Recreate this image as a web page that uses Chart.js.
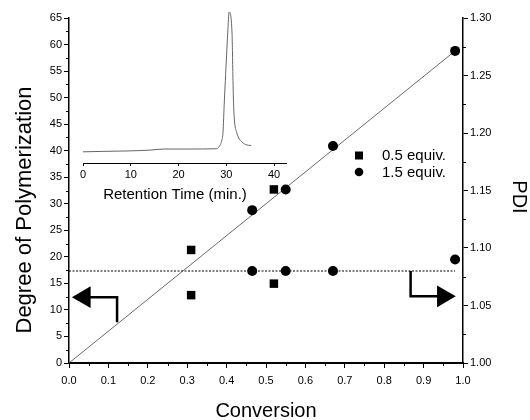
<!DOCTYPE html>
<html>
<head>
<meta charset="utf-8">
<script src="https://cdn.jsdelivr.net/npm/chart.js@4.4.0/dist/chart.umd.min.js"></script>
<style>
    html, body { margin: 0; padding: 0; background: #fff; }
    #wrap { position: relative; width: 530px; height: 420px; }
    #main, #inset { position: absolute; left: 0; top: 0; }
    #inset { pointer-events: none; }
</style>
</head>
<body>
<div id="wrap">
    <canvas id="main" width="530" height="420"></canvas>
    <canvas id="inset" width="300" height="210"></canvas>
</div>
<script>
// --- data ---
const conv05 = [0.31, 0.52];
const dp05 = [21.3, 32.7];
const pdi05 = [1.059, 1.069];

const conv15 = [0.465, 0.55, 0.67, 0.98];
const dp15 = [28.8, 32.7, 40.9, 58.8];
const pdi15 = [1.08, 1.08, 1.08, 1.09];

// theoretical DP line and PDI guide
const dpFitConv = [0, 0.98];
const dpFitValue = [0, 58.8];
const pdiGuideConv = [0, 0.98];
const pdiGuideValue = [1.08, 1.08];

// arrows pointing to the axes (elbow + head)
const arrowLeftConv = [0.122, 0.122, 0.039];
const arrowLeftDp = [7.7, 12.4, 12.4];
const arrowRightConv = [0.867, 0.867, 0.950];
const arrowRightPdi = [1.08, 1.058, 1.058];

// inset GPC trace
const gpcTime = [0, 4, 9, 14, 17, 22, 28.0, 28.5, 29.1, 29.3, 29.6, 29.8, 30.3, 30.6,
                 31.2, 31.4, 31.5, 31.65, 32.2, 33.3, 34.2, 35.2];
const gpcSignal = [0, 0.003, 0.006, 0.012, 0.02, 0.02, 0.022, 0.038, 0.086, 0.134, 0.37, 0.51, 0.85, 1.0,
                   0.85, 0.51, 0.37, 0.25, 0.136, 0.07, 0.05, 0.045];

const legendLabels = ['0.5 equiv.', '1.5 equiv.'];

const FONT = "'Liberation Sans', Arial, Helvetica, sans-serif";
const INK = '#000';

const pts = (xs, ys) => xs.map((x, i) => ({ x, y: ys[i] }));

// minor ticks, axis titles and legend drawn on top of chart
const decorations = {
    id: 'decorations',
    afterDraw(chart) {
        const { ctx, chartArea: ca, scales } = chart;
        ctx.save();
        ctx.strokeStyle = INK;
        ctx.lineWidth = 1;
        ctx.beginPath();
        for (let v = 2.5; v < 65; v += 5) {
            const py = Math.round(scales.y.getPixelForValue(v)) + 0.5;
            ctx.moveTo(ca.left - 3, py); ctx.lineTo(ca.left, py);
        }
        for (let v = 1.025; v < 1.3; v += 0.05) {
            const py = Math.round(scales.y2.getPixelForValue(v)) + 0.5;
            ctx.moveTo(ca.right, py); ctx.lineTo(ca.right + 3, py);
        }
        for (let v = 0.05; v < 1; v += 0.1) {
            const px = Math.round(scales.x.getPixelForValue(v)) + 0.5;
            ctx.moveTo(px, ca.bottom); ctx.lineTo(px, ca.bottom + 3);
        }
        ctx.stroke();

        // axis titles
        ctx.fillStyle = INK;
        ctx.textAlign = 'center';
        ctx.textBaseline = 'alphabetic';
        ctx.font = `22px ${FONT}`;
        ctx.save();
        ctx.translate(31, 210);
        ctx.rotate(-Math.PI / 2);
        ctx.fillText('Degree of Polymerization', 0, 0);
        ctx.restore();

        ctx.font = `20px ${FONT}`;
        ctx.fillText('Conversion', (ca.left + ca.right) / 2, 417);

        ctx.save();
        ctx.translate(513, 197);
        ctx.rotate(Math.PI / 2);
        ctx.fillText('PDI', 0, 0);
        ctx.restore();

        // legend
        ctx.font = `15px ${FONT}`;
        ctx.textAlign = 'left';
        ctx.fillRect(355, 151.5, 8, 8);
        ctx.beginPath();
        ctx.arc(359, 172, 4.3, 0, Math.PI * 2);
        ctx.fill();
        ctx.fillText(legendLabels[0], 382, 160);
        ctx.fillText(legendLabels[1], 382, 176.5);
        ctx.restore();
    }
};

const tickFont = { family: FONT, size: 11 };

new Chart(document.getElementById('main'), {
    type: 'scatter',
    data: {
        datasets: [{
            label: 'DP 0.5 equiv.',
            data: pts(conv05, dp05),
            yAxisID: 'y',
            pointStyle: 'rect',
            pointRadius: 6,
            pointBorderWidth: 0,
            pointBackgroundColor: INK
        }, {
            label: 'PDI 0.5 equiv.',
            data: pts(conv05, pdi05),
            yAxisID: 'y2',
            pointStyle: 'rect',
            pointRadius: 6,
            pointBorderWidth: 0,
            pointBackgroundColor: INK
        }, {
            label: 'DP 1.5 equiv.',
            data: pts(conv15, dp15),
            yAxisID: 'y',
            pointStyle: 'circle',
            pointRadius: 5,
            pointBorderWidth: 0,
            pointBackgroundColor: INK
        }, {
            label: 'PDI 1.5 equiv.',
            data: pts(conv15, pdi15),
            yAxisID: 'y2',
            pointStyle: 'circle',
            pointRadius: 5,
            pointBorderWidth: 0,
            pointBackgroundColor: INK
        }, {
            label: 'arrow DP',
            data: pts(arrowLeftConv, arrowLeftDp),
            yAxisID: 'y',
            showLine: true,
            borderColor: INK,
            borderWidth: 2.5,
            borderJoinStyle: 'miter',
            pointStyle: 'triangle',
            pointRadius: [0, 0, 12.5],
            pointRotation: [0, 0, -90],
            pointBorderWidth: 0,
            pointBackgroundColor: INK
        }, {
            label: 'arrow PDI',
            data: pts(arrowRightConv, arrowRightPdi),
            yAxisID: 'y2',
            showLine: true,
            borderColor: INK,
            borderWidth: 2.5,
            borderJoinStyle: 'miter',
            pointStyle: 'triangle',
            pointRadius: [0, 0, 12.5],
            pointRotation: [0, 0, 90],
            pointBorderWidth: 0,
            pointBackgroundColor: INK
        }, {
            label: 'DP fit',
            data: pts(dpFitConv, dpFitValue),
            yAxisID: 'y',
            showLine: true,
            borderColor: '#444',
            borderWidth: 0.8,
            pointRadius: 0
        }, {
            label: 'PDI guide',
            data: pts(pdiGuideConv, pdiGuideValue),
            yAxisID: 'y2',
            showLine: true,
            borderColor: INK,
            borderWidth: 1,
            borderDash: [2, 1.5],
            pointRadius: 0
        }]
    },
    options: {
        responsive: false,
        animation: false,
        events: [],
        layout: { padding: { top: 18, left: 0, right: 0, bottom: 0 } },
        plugins: { legend: { display: false }, tooltip: { enabled: false } },
        scales: {
            x: {
                type: 'linear',
                position: 'bottom',
                min: 0, max: 1,
                ticks: { stepSize: 0.1, color: INK, font: tickFont, padding: 6,
                         callback: v => v.toFixed(1) },
                grid: { drawOnChartArea: false, tickLength: 5, color: INK },
                border: { color: INK, width: 2 },
                afterFit: s => { s.height = 57; }
            },
            y: {
                position: 'left',
                min: 0, max: 65,
                ticks: { stepSize: 5, color: INK, font: tickFont, padding: 2 },
                grid: { drawOnChartArea: false, tickLength: 5, color: INK },
                border: { color: INK, width: 1.5 },
                afterFit: s => { s.width = 69; }
            },
            y2: {
                position: 'right',
                min: 1.0, max: 1.3,
                ticks: { stepSize: 0.05, color: INK, font: tickFont, padding: 2,
                         callback: v => v.toFixed(2) },
                grid: { drawOnChartArea: false, tickLength: 5, color: INK },
                border: { color: INK, width: 1.5 },
                afterFit: s => { s.width = 67; }
            }
        }
    },
    plugins: [decorations]
});

// inset: GPC trace
const insetTitle = {
    id: 'insetTitle',
    afterDraw(chart) {
        const { ctx } = chart;
        ctx.save();
        ctx.fillStyle = INK;
        ctx.font = `15px ${FONT}`;
        ctx.textAlign = 'center';
        ctx.textBaseline = 'alphabetic';
        ctx.fillText('Retention Time (min.)', 175, 199);
        ctx.restore();
    }
};

new Chart(document.getElementById('inset'), {
    type: 'scatter',
    data: {
        datasets: [{
            label: 'GPC',
            data: pts(gpcTime, gpcSignal),
            showLine: true,
            borderColor: '#666',
            borderWidth: 1,
            cubicInterpolationMode: 'monotone',
            pointRadius: 0
        }]
    },
    options: {
        responsive: false,
        animation: false,
        events: [],
        layout: { padding: { top: 12, left: 83, right: 14, bottom: 0 } },
        plugins: { legend: { display: false }, tooltip: { enabled: false } },
        scales: {
            x: {
                type: 'linear',
                min: 0, max: 42.5,
                ticks: { stepSize: 10, includeBounds: false, color: INK, font: tickFont, padding: 2 },
                grid: { drawOnChartArea: false, tickLength: 3, color: INK },
                border: { color: INK, width: 1 },
                afterFit: s => { s.height = 47; }
            },
            y: { display: false, min: -0.08, max: 1.0 }
        }
    },
    plugins: [insetTitle]
});
</script>
</body>
</html>
